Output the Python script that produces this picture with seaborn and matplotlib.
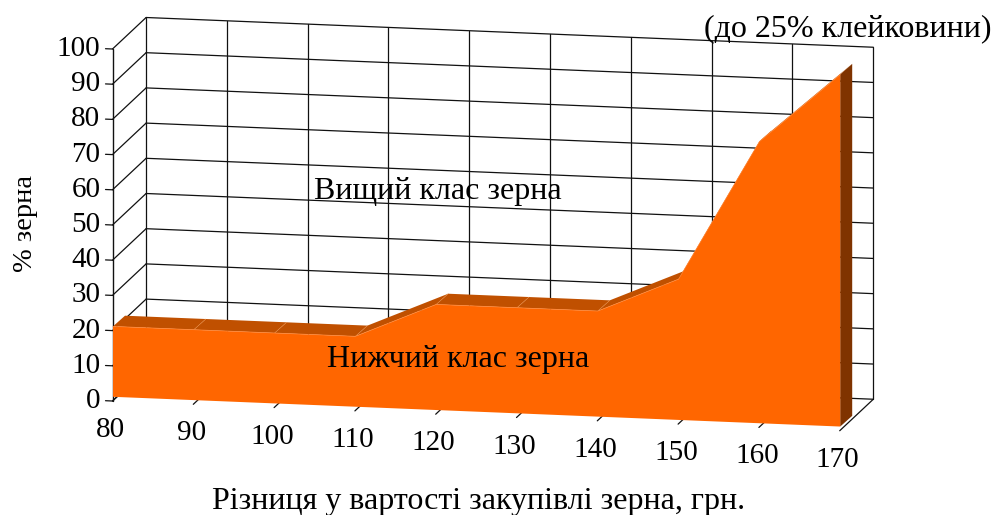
import numpy as np
import matplotlib
matplotlib.use("Agg")
import matplotlib.pyplot as plt
from matplotlib.transforms import Affine2D
import seaborn as sns

categories = [80, 90, 100, 110, 120, 130, 140, 150, 160, 170]
lower_class = [20, 20, 20, 20, 30, 30, 30, 40, 80, 100]
y_ticks = [0, 10, 20, 30, 40, 50, 60, 70, 80, 90, 100]
title_text = "(до 25% клейковини)"
upper_label = "Вищий клас зерна"
lower_label = "Нижчий клас зерна"
x_title = "Різниця у вартості закупівлі зерна, грн."
y_title = "% зерна"

ORANGE = "#FF6600"
TOPC = "#C05000"
SIDE = "#7F3300"
SEAM = "#E8883F"
LINE = "#111111"

sns.set_theme(style="white")
plt.rcParams["font.family"] = ["Liberation Serif", "DejaVu Serif"]

fig = plt.figure(figsize=(9.98, 5.15), dpi=100)
ax = fig.add_axes([0, 0, 1, 1])

# oblique plane of the chart: (category, percent) -> picture position
SX, SK, SY = 8.08, 0.0409, 3.52
X0, Y0 = 112.5, 401.0
plane = Affine2D.from_values(SX, SX * SK, 0, -SY, X0 - 80 * SX, Y0 - 80 * SX * SK)
tr = plane + ax.transData


def shift(x, v, dx, dy):
    """Move a data point by an on-picture offset, staying in data units."""
    x = np.asarray(x, float)
    v = np.asarray(v, float)
    return x + dx / SX, v + (dx * SK - dy) / SY


xs = np.array(categories, float)
vs = np.array(lower_class, float)
xa, xb = xs[0], xs[-1]
DEPTH = (33.6, -31.5)

# back wall
for x in categories:
    px, pv = shift([x, x], [0, 100], *DEPTH)
    ax.plot(px, pv, color=LINE, lw=0.9, transform=tr, zorder=1)
for v in y_ticks:
    px, pv = shift([xa, xb], [v, v], *DEPTH)
    ax.plot(px, pv, color=LINE, lw=0.9, transform=tr, zorder=1)
    # side wall
    qx, qv = shift([xa, xa], [v, v], DEPTH[0], DEPTH[1])
    ax.plot([xa, qx[0]], [v, qv[0]], color=LINE, lw=0.9, transform=tr, zorder=1)
    # y tick
    tx, tv = shift([xa], [v], -7, 0)
    ax.plot([tx[0], xa], [v, v], color=LINE, lw=0.9, transform=tr, zorder=1)
    lx, lv = shift([xa], [v], -12, 0)
    ax.text(lx[0], lv[0], str(v), ha="right", va="center", fontsize=21,
            color="black", transform=tr, zorder=6)
# floor
for x in categories:
    qx, qv = shift([x], [0], *DEPTH)
    ax.plot([x, qx[0]], [0, qv[0]], color=LINE, lw=0.9, transform=tr, zorder=1)
ax.plot([xa, xa], [0, 100], color=LINE, lw=1.0, transform=tr, zorder=1)

# area: offsets of its front and back faces from the front plane
FRONT = (0.5, -4.2)
BACK = (12.5, -14.9)

# top band
fx, fv = shift(xs, vs, *FRONT)
bx, bv = shift(xs, vs, *BACK)
for i in range(len(xs) - 1):
    ax.fill([fx[i], fx[i + 1], bx[i + 1], bx[i]],
            [fv[i], fv[i + 1], bv[i + 1], bv[i]],
            color=TOPC, lw=0, transform=tr, zorder=2)
    if i > 0:
        ax.plot([fx[i], bx[i]], [fv[i], bv[i]], color=SEAM, lw=0.4, transform=tr, zorder=3)

# right side
b0x, b0v = shift(xs, 0 * vs, *FRONT)
b1x, b1v = shift(xs, 0 * vs, *BACK)
ax.fill([fx[-1], bx[-1], b1x[-1], b0x[-1]],
        [fv[-1], bv[-1], b1v[-1], b0v[-1]],
        color=SIDE, lw=0, transform=tr, zorder=3)

# front face
ax.fill(np.r_[fx, b0x[::-1]], np.r_[fv, b0v[::-1]], color=ORANGE, lw=0, transform=tr, zorder=4)
sns.lineplot(x=fx, y=fv, ax=ax, color="#FF8A3C", lw=0.5, errorbar=None, sort=False,
             transform=tr, zorder=4, legend=False)

# x tick labels
for x in categories:
    lx, lv = shift([x], [0], -2, 29)
    ax.text(lx[0], lv[0], str(x), ha="center", va="center", fontsize=21,
            color="black", transform=tr, zorder=6)

ax.text(847.5, 29, title_text, ha="center", va="center", fontsize=23, color="black", zorder=6)
ax.text(437.5, 191, upper_label, ha="center", va="center", fontsize=23, color="black", zorder=6)
ax.text(458.5, 359, lower_label, ha="center", va="center", fontsize=23, color="black", zorder=6)
ax.text(479, 502, x_title, ha="center", va="center", fontsize=23, color="black", zorder=6)
ax.text(26, 224, y_title, ha="center", va="center", rotation=90, fontsize=20.5, color="black", zorder=6)

ax.set_xlim(0, 998)
ax.set_ylim(515, 0)
ax.axis("off")
fig.savefig("out.png", dpi=100, facecolor="white")
